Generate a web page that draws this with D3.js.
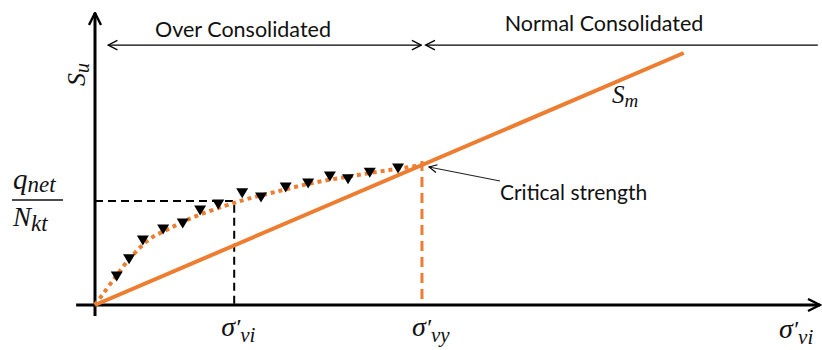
<!DOCTYPE html>
<html>
<head>
<meta charset="utf-8">
<script src="https://cdn.jsdelivr.net/npm/d3@7"></script>
<style>
  body { margin: 0; background: #fff; }
  .lbl { font-family: Lato, "Open Sans", sans-serif; fill: #111; }
  .math { font-family: "Liberation Serif", "DejaVu Serif", serif; font-style: italic; fill: #111; }
</style>
</head>
<body>
<svg id="chart" width="822" height="350"></svg>
<script>
// values in arbitrary units (x: effective stress, y: undrained strength)
const sigmaVi = 19.2, sigmaVy = 45.1, qNetNkt = 35.6;
const smX = [0, 81.2];
const smY = [0, 86.3];
const cptX = [3.0, 4.7, 6.6, 9.4, 12.1, 14.5, 17.0, 20.3, 22.9, 26.3, 29.4, 32.4, 34.9, 37.9, 41.8];
const cptY = [9.9, 15.8, 22.3, 26.0, 28.1, 32.5, 34.6, 38.4, 37.0, 40.4, 41.8, 44.2, 43.2, 45.5, 46.9];
const fitX = [0, 2.5, 5, 7.5, 10.5, 14, 18, 21, 25, 30, 35, 40, 45.1];
const fitY = [0, 8.5, 16.5, 22.5, 26.5, 30.5, 34, 36.3, 38.8, 41.8, 44, 46, 47.9];
const zoneY = 89;
const overZone = [1.8, 45.0];
const normalZone = [45.6, 99.7];

const orange = "#ED7D31";
const svg = d3.select("#chart");

const x = d3.scaleLinear().domain([0, 100]).range([95, 820]);
const y = d3.scaleLinear().domain([0, 100]).range([305, 13]);

const defs = svg.append("defs");
defs.append("marker").attr("id", "axisHead")
    .attr("viewBox", "0 0 10 10").attr("refX", 9).attr("refY", 5)
    .attr("markerWidth", 5).attr("markerHeight", 5).attr("markerUnits", "strokeWidth")
    .attr("orient", "auto")
    .append("path").attr("d", "M1,1 L9,5 L1,9")
    .attr("fill", "none").attr("stroke", "#000").attr("stroke-width", 1.6);
defs.append("marker").attr("id", "thinHead")
    .attr("viewBox", "0 0 10 10").attr("refX", 9).attr("refY", 5)
    .attr("markerWidth", 9).attr("markerHeight", 9).attr("markerUnits", "strokeWidth")
    .attr("orient", "auto-start-reverse")
    .append("path").attr("d", "M1,1 L9,5 L1,9")
    .attr("fill", "none").attr("stroke", "#000").attr("stroke-width", 1.1);

// axes
svg.append("line")
    .attr("x1", x(-2.6)).attr("x2", x(100)).attr("y1", y(0)).attr("y2", y(0))
    .attr("stroke", "#000").attr("stroke-width", 3).attr("marker-end", "url(#axisHead)");
svg.append("line")
    .attr("x1", x(0)).attr("x2", x(0)).attr("y1", y(-3.8)).attr("y2", y(100))
    .attr("stroke", "#000").attr("stroke-width", 3).attr("marker-end", "url(#axisHead)");

// zone arrows
svg.append("line")
    .attr("x1", x(overZone[0])).attr("x2", x(overZone[1])).attr("y1", y(zoneY)).attr("y2", y(zoneY))
    .attr("stroke", "#000").attr("stroke-width", 1.3)
    .attr("marker-start", "url(#thinHead)").attr("marker-end", "url(#thinHead)");
svg.append("line")
    .attr("x1", x(normalZone[0])).attr("x2", x(normalZone[1])).attr("y1", y(zoneY)).attr("y2", y(zoneY))
    .attr("stroke", "#000").attr("stroke-width", 1.3)
    .attr("marker-start", "url(#thinHead)");

svg.append("text").attr("class", "lbl")
    .attr("x", 243).attr("y", 37)
    .attr("text-anchor", "middle").attr("font-size", 21.5).text("Over Consolidated");
svg.append("text").attr("class", "lbl")
    .attr("x", 604).attr("y", 31)
    .attr("text-anchor", "middle").attr("font-size", 21.5).text("Normal Consolidated");

// dashed guides
svg.append("path")
    .attr("d", d3.line()([[x(0), y(qNetNkt)], [x(sigmaVi), y(qNetNkt)], [x(sigmaVi), y(0)]]))
    .attr("fill", "none").attr("stroke", "#000").attr("stroke-width", 2)
    .attr("stroke-dasharray", "8,5");

const critY = smY[1] * sigmaVy / smX[1];
svg.append("line")
    .attr("x1", x(sigmaVy)).attr("x2", x(sigmaVy)).attr("y1", y(critY) - 4).attr("y2", y(0))
    .attr("stroke", orange).attr("stroke-width", 3).attr("stroke-dasharray", "10,6");

// Sm line
svg.append("line")
    .attr("x1", x(smX[0])).attr("y1", y(smY[0])).attr("x2", x(smX[1])).attr("y2", y(smY[1]))
    .attr("stroke", orange).attr("stroke-width", 4);

// dotted fit curve
const fit = fitX.map((d, i) => [d, fitY[i]]);
svg.append("path")
    .datum(fit)
    .attr("d", d3.line().x(d => x(d[0])).y(d => y(d[1])).curve(d3.curveCatmullRom))
    .attr("fill", "none").attr("stroke", orange).attr("stroke-width", 4)
    .attr("stroke-dasharray", "4,4");

// CPT points
svg.selectAll(".cpt")
    .data(cptX.map((d, i) => [d, cptY[i]]))
    .enter().append("path")
    .attr("class", "cpt")
    .attr("d", "M-6,-4.5 L6,-4.5 L0,5.5 Z")
    .attr("transform", d => "translate(" + x(d[0]) + "," + y(d[1]) + ")")
    .attr("fill", "#000");

// critical strength annotation
svg.append("line")
    .attr("x1", 500).attr("y1", 181).attr("x2", x(sigmaVy) + 7).attr("y2", y(critY) + 2)
    .attr("stroke", "#222").attr("stroke-width", 1.1).attr("marker-end", "url(#thinHead)");
svg.append("text").attr("class", "lbl")
    .attr("x", 500).attr("y", 200).attr("font-size", 21).text("Critical strength");

// math labels
function sigma(px, py, sub) {
    const t = svg.append("text").attr("class", "math").attr("x", px).attr("y", py).attr("font-size", 28);
    t.append("tspan").text("σ");
    t.append("tspan").attr("dy", -1).attr("font-size", 24).text("′");
    t.append("tspan").attr("dy", 7).attr("font-size", 21).text(sub);
}
sigma(x(sigmaVi) - 13, 336, "vi");
sigma(x(sigmaVy) - 10, 336, "vy");
sigma(779, 338, "vi");

const sm = svg.append("text").attr("class", "math").attr("x", 612).attr("y", 103).attr("font-size", 25);
sm.append("tspan").text("S");
sm.append("tspan").attr("dy", 4).attr("font-size", 19).text("m");

const su = svg.append("text").attr("class", "math")
    .attr("transform", "translate(85,86) rotate(-90)").attr("font-size", 26);
su.append("tspan").text("S");
su.append("tspan").attr("dy", 4).attr("font-size", 20).text("u");

const num = svg.append("text").attr("class", "math").attr("x", 13).attr("y", 189).attr("font-size", 29);
num.append("tspan").text("q");
num.append("tspan").attr("dy", 3).attr("font-size", 23).text("net");
svg.append("line").attr("x1", 12).attr("x2", 63).attr("y1", y(qNetNkt) - 1).attr("y2", y(qNetNkt) - 1)
    .attr("stroke", "#111").attr("stroke-width", 1.5);
const den = svg.append("text").attr("class", "math").attr("x", 13).attr("y", 226).attr("font-size", 27);
den.append("tspan").text("N");
den.append("tspan").attr("dy", 5).attr("font-size", 23).text("kt");
</script>
</body>
</html>
